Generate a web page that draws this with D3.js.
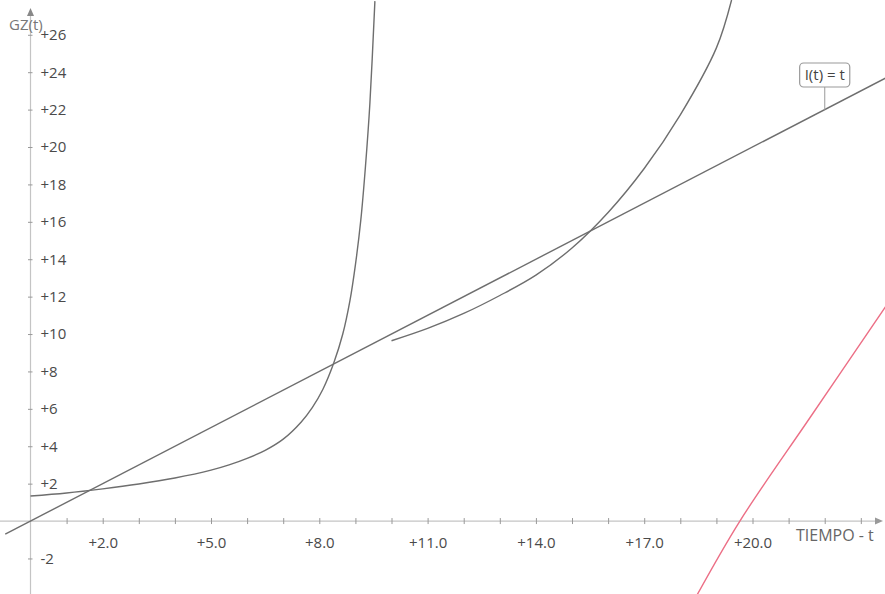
<!DOCTYPE html>
<html>
<head>
<meta charset="utf-8">
<script src="https://cdn.jsdelivr.net/npm/d3@7"></script>
<style>
  html, body { margin: 0; padding: 0; background: #fff; }
  svg { display: block; font-family: "Open Sans", sans-serif; }
</style>
</head>
<body>
<svg id="chart" width="885" height="594"></svg>
<script>
// datos
const curveAT = [0, 1, 2, 3, 4, 5, 5.5, 6, 6.5, 7, 7.5, 7.8, 8.1, 8.4, 8.65, 8.85, 9.0, 9.15, 9.28, 9.4, 9.54];
const curveAG = [1.34, 1.5, 1.72, 1.98, 2.3, 2.72, 3.0, 3.35, 3.78, 4.38, 5.3, 6.05, 7.05, 8.45, 10.0, 11.8, 13.7, 16.1, 19.0, 22.3, 27.8];

const curveBT = [10, 11, 12, 13, 14, 15, 16, 17, 18, 19, 19.42];
const curveBG = [9.64, 10.3, 11.1, 12.06, 13.15, 14.6, 16.5, 18.85, 21.72, 25.3, 27.86];

const identityT = [-0.7, 23.7];
const identityG = [-0.7, 23.7];

const redT = [18.45, 19.65, 21.6, 23.7];
const redG = [-4.0, 0, 5.55, 11.5];

const xMinorTicks = d3.range(1, 24);
const xLabelTicks = [2, 5, 8, 11, 14, 17, 20];
const yTicks = [-2, 2, 4, 6, 8, 10, 12, 14, 16, 18, 20, 22, 24, 26];

const labelT = 22;
const labelText = "I(t) = t";

const svg = d3.select("#chart");
const width = 885, height = 594;

// escalas
const x = d3.scaleLinear().domain([-0.845, 23.67]).range([0, width]);
const y = d3.scaleLinear().domain([-3.9, 27.86]).range([height, 0]);

const axisColor = "#c4c4c4";
const textColor = "#4a4a4a";

// eje x
const gx = svg.append("g").attr("transform", `translate(0,${y(0)})`);
gx.append("line").attr("x1", 0).attr("x2", width - 6)
  .attr("stroke", axisColor).attr("stroke-width", 1.2);
gx.append("path").attr("d", `M${width - 10},-3.5L${width - 2},0L${width - 10},3.5Z`).attr("fill", "#999");

const xTickAxis = d3.axisBottom(x).tickValues(xMinorTicks).tickSize(3).tickFormat("");
const gxt = svg.append("g").attr("transform", `translate(0,${y(0)})`).call(xTickAxis);
gxt.select(".domain").remove();
gxt.selectAll(".tick line").attr("y1", -3).attr("stroke", "#999");

const xLabelAxis = d3.axisBottom(x).tickValues(xLabelTicks).tickSize(0).tickPadding(16)
  .tickFormat(d => "+" + d.toFixed(1));
const gxl = svg.append("g").attr("transform", `translate(0,${y(0)})`).call(xLabelAxis);
gxl.select(".domain").remove();
gxl.selectAll(".tick text").attr("fill", textColor).style("font-size", "15px")
  .style("font-family", "'Open Sans', sans-serif");

gx.append("text").attr("x", 796).attr("y", 20).text("TIEMPO - t")
  .attr("fill", "#666").style("font-size", "16px");

// eje y
const gy = svg.append("g").attr("transform", `translate(${x(0)},0)`);
gy.append("line").attr("y1", 12).attr("y2", height).attr("stroke", axisColor).attr("stroke-width", 1.2);
gy.append("path").attr("d", "M-3.5,16L0,8L3.5,16Z").attr("fill", "#888");

const yAxis = d3.axisRight(y).tickValues(yTicks).tickSize(2).tickPadding(8)
  .tickFormat(d => (d > 0 ? "+" : "-") + Math.abs(d));
const gya = svg.append("g").attr("transform", `translate(${x(0)},0)`).call(yAxis);
gya.select(".domain").remove();
gya.selectAll(".tick line").attr("x1", -2.5).attr("stroke", "#999");
gya.selectAll(".tick text").attr("fill", textColor).style("font-size", "15px")
  .style("font-family", "'Open Sans', sans-serif");

svg.append("text").attr("x", 9).attr("y", 30).text("GZ(t)")
  .attr("fill", "#777").style("font-size", "15px");

// curvas
const line = d3.line().x(d => x(d[0])).y(d => y(d[1])).curve(d3.curveCatmullRom.alpha(0.5));
const zip = (a, b) => a.map((v, i) => [v, b[i]]);

svg.append("path").datum(zip(identityT, identityG)).attr("d", line)
  .attr("fill", "none").attr("stroke", "#6e6e6e").attr("stroke-width", 1.4);
svg.append("path").datum(zip(curveAT, curveAG)).attr("d", line)
  .attr("fill", "none").attr("stroke", "#6e6e6e").attr("stroke-width", 1.4);
svg.append("path").datum(zip(curveBT, curveBG)).attr("d", line)
  .attr("fill", "none").attr("stroke", "#6e6e6e").attr("stroke-width", 1.4);
svg.append("path").datum(zip(redT, redG)).attr("d", line)
  .attr("fill", "none").attr("stroke", "#ec6f86").attr("stroke-width", 1.4);

// etiqueta I(t) = t
const lx = x(labelT), ly = y(labelT);
svg.append("line").attr("x1", lx).attr("x2", lx).attr("y1", 87).attr("y2", ly)
  .attr("stroke", "#aaa").attr("stroke-width", 1.2);
const lbl = svg.append("g").attr("transform", `translate(${lx},75)`);
const lt = lbl.append("text").attr("text-anchor", "middle").attr("dy", "0.35em")
  .text(labelText).attr("fill", "#444").style("font-size", "15px");
const bb = lt.node().getBBox();
lbl.insert("rect", "text").attr("x", bb.x - 5).attr("y", -12).attr("width", bb.width + 10).attr("height", 24)
  .attr("rx", 4).attr("fill", "#fff").attr("stroke", "#999").attr("stroke-width", 1.2);
</script>
</body>
</html>
